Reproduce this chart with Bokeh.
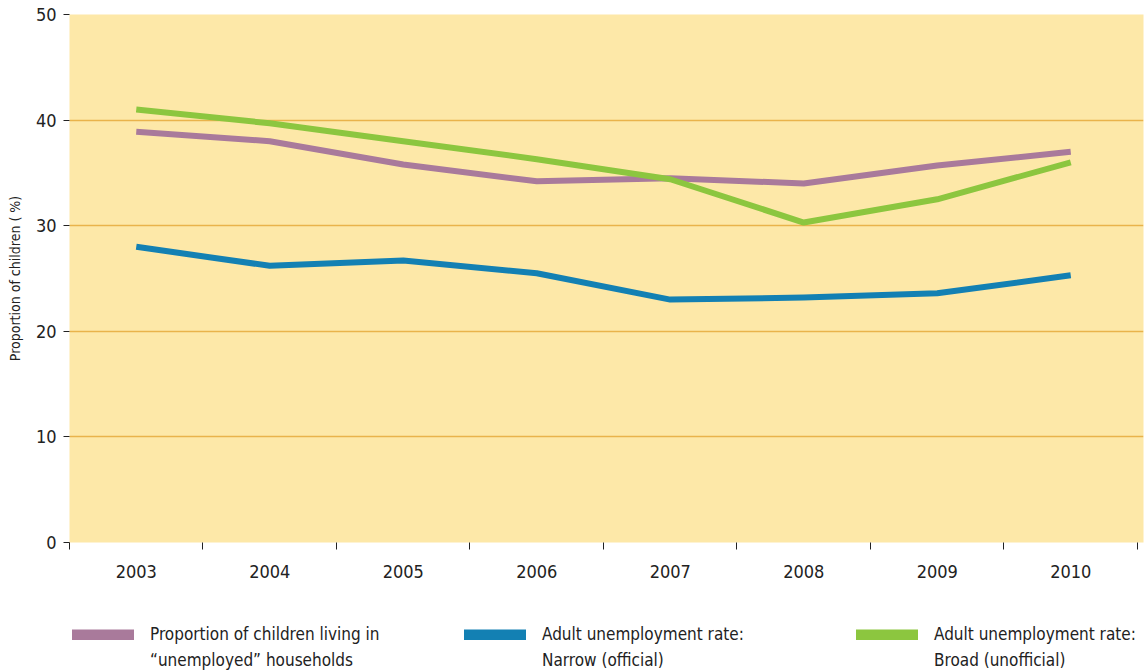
from bokeh.plotting import figure
from bokeh.layouts import column
from bokeh.models import FixedTicker, Legend, LegendItem, ColumnDataSource
from bokeh.embed import file_html
from bokeh.resources import INLINE

years = ["2003", "2004", "2005", "2006", "2007", "2008", "2009", "2010"]
children = [38.9, 38.0, 35.8, 34.2, 34.5, 34.0, 35.7, 37.0]
narrow = [28.0, 26.2, 26.7, 25.5, 23.0, 23.2, 23.6, 25.3]
broad = [41.0, 39.7, 38.0, 36.3, 34.4, 30.3, 32.5, 36.0]
y_ticks = [0, 10, 20, 30, 40, 50]

labels_line1 = [
    "Proportion of children living in",
    "Adult unemployment rate:",
    "Adult unemployment rate:",
]
labels_line2 = [
    "\u201cunemployed\u201d households",
    "Narrow (official)",
    "Broad (unofficial)",
]
colors = ["#a97a9b", "#1380b3", "#8cc63f"]

FONT = "DejaVu Sans Condensed"

xpos = [i + 0.5 for i in range(len(years))]

p = figure(width=1145, height=600, output_backend="svg", toolbar_location=None,
           x_range=(0, 8.045), y_range=(0, 50),
           min_border_left=69, min_border_right=2, min_border_top=14, min_border_bottom=58)
p.outline_line_color = None
p.background_fill_color = "#fde8a8"
p.border_fill_color = "white"

src = ColumnDataSource(dict(x=xpos, c=children, n=narrow, b=broad))
series = [("c", colors[0]), ("n", colors[1]), ("b", colors[2])]
for col, colr in series:
    p.line("x", col, source=src, line_color=colr, line_width=6, line_join="round")

# axes
xa = p.xaxis[0]
xa.ticker = FixedTicker(ticks=xpos, minor_ticks=list(range(0, 9)))
xa.major_label_overrides = {x: y for x, y in zip(xpos, years)}
xa.major_tick_out = 0
xa.major_tick_in = 0
xa.minor_tick_out = 7
xa.minor_tick_in = 0
xa.minor_tick_line_color = "#222222"
xa.axis_line_color = None
xa.major_label_text_font = FONT
xa.major_label_text_font_size = "18px"
xa.major_label_text_color = "#222222"
xa.major_label_standoff = 15

ya = p.yaxis[0]
ya.ticker = FixedTicker(ticks=y_ticks, minor_ticks=[])
ya.major_tick_out = 6
ya.major_tick_in = 0
ya.major_tick_line_color = "#222222"
ya.axis_line_color = None
ya.major_label_text_font = FONT
ya.major_label_text_font_size = "18px"
ya.major_label_text_color = "#222222"
ya.major_label_standoff = 7
ya.axis_label = "Proportion of children ( %)"
ya.axis_label_text_font = FONT
ya.axis_label_text_font_size = "14px"
ya.axis_label_text_font_style = "normal"
ya.axis_label_text_color = "#222222"
ya.axis_label_standoff = 10

p.xgrid.grid_line_color = None
p.ygrid.grid_line_color = "#e9b34b"
p.ygrid.grid_line_width = 1.5
p.ygrid.ticker = FixedTicker(ticks=[10, 20, 30, 40])

# legend strip
q = figure(width=1145, height=72, output_backend="svg", toolbar_location=None,
           x_axis_type=None, y_axis_type=None, x_range=(0, 1), y_range=(0, 1),
           min_border=0)
q.outline_line_color = None
q.grid.visible = False
q.background_fill_color = "white"

items1, items2 = [], []
for l1, l2, colr in zip(labels_line1, labels_line2, colors):
    r = q.line([float("nan")], [float("nan")], line_color=colr, line_width=11, line_cap="round")
    items1.append(LegendItem(label=l1, renderers=[r]))
    r2 = q.line([float("nan")], [float("nan")], line_color=colr, line_alpha=0, line_width=1)
    items2.append(LegendItem(label=l2, renderers=[r2]))

for its, loc in ((items1, (3, 28)), (items2, (3, 2))):
    lg = Legend(items=its, orientation="horizontal", location=loc)
    lg.label_text_font = FONT
    lg.label_text_font_size = "17px"
    lg.label_text_color = "#222222"
    lg.glyph_width = 62
    lg.glyph_height = 11
    lg.label_standoff = 16
    lg.label_width = 310
    lg.label_height = 20
    lg.spacing = 4
    lg.padding = 0
    lg.margin = 0
    lg.border_line_color = None
    lg.background_fill_alpha = 0
    q.add_layout(lg, "center")

layout = column(p, q, spacing=0)
open("out.html", "w").write(file_html(layout, INLINE))
